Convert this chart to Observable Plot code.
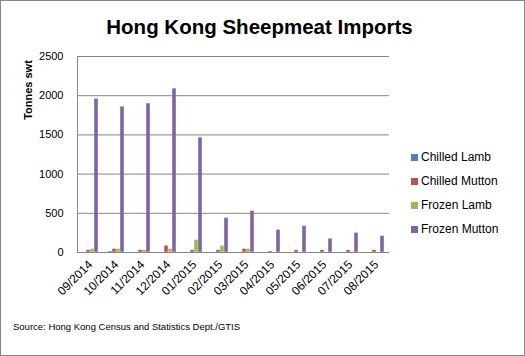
<!DOCTYPE html>
<html>
<head>
<meta charset="utf-8">
<script src="https://cdn.jsdelivr.net/npm/d3@7"></script>
<script src="https://cdn.jsdelivr.net/npm/@observablehq/plot@0.6"></script>
<style>
  html, body { margin: 0; padding: 0; background: #fff; }
  body { width: 525px; height: 356px; position: relative; overflow: hidden; font-family: "Liberation Sans", Arial, sans-serif; }
  #frame { position: absolute; left: 0; top: 0; width: 525px; height: 356px; box-sizing: border-box; border: 1px solid #868686; pointer-events: none; }
  #title { position: absolute; left: -3px; width: 525px; top: 15px; text-align: center; font-size: 20.5px; font-weight: bold; color: #000; }
  #ylabel { position: absolute; left: 28px; top: 90px; transform: translate(-50%, -50%) rotate(-90deg); font-size: 11px; font-weight: bold; white-space: nowrap; }
  #chart { position: absolute; left: 0; top: 0; }
  #legend { position: absolute; left: 411px; top: 150px; font-size: 12px; }
  .li { height: 24px; display: flex; align-items: flex-start; white-space: nowrap; }
  .sw { width: 7px; height: 7px; margin-right: 3px; margin-top: 4px; }
  #source { position: absolute; left: 13px; top: 321px; font-size: 9.5px; white-space: nowrap; }
</style>
</head>
<body>
<div id="chart"></div>
<div id="title">Hong Kong Sheepmeat Imports</div>
<div id="ylabel">Tonnes swt</div>
<div id="legend"></div>
<div id="source">Source: Hong Kong Census and Statistics Dept./GTIS</div>
<div id="frame"></div>
<script>
const months = ["09/2014","10/2014","11/2014","12/2014","01/2015","02/2015","03/2015","04/2015","05/2015","06/2015","07/2015","08/2015"];
const seriesNames = ["Chilled Lamb","Chilled Mutton","Frozen Lamb","Frozen Mutton"];
const seriesColors = ["#4F81BD","#C0504D","#9BBB59","#8064A2"];
const chilledLamb   = [0, 15, 0, 0, 0, 0, 0, 3, 0, 0, 0, 0];
const chilledMutton = [30, 45, 30, 85, 30, 30, 45, 15, 30, 30, 30, 30];
const frozenLamb    = [45, 45, 30, 45, 160, 85, 45, 0, 0, 0, 10, 0];
const frozenMutton  = [1960, 1860, 1900, 2090, 1465, 440, 530, 288, 338, 175, 250, 210];
const yTicks = [0, 500, 1000, 1500, 2000, 2500];

const seriesValues = [chilledLamb, chilledMutton, frozenLamb, frozenMutton];
const data = [];
months.forEach((m, i) => {
  seriesNames.forEach((s, j) => data.push({month: m, series: s, value: seriesValues[j][i]}));
});

const plot = Plot.plot({
  width: 525,
  height: 320,
  marginTop: 56,
  marginBottom: 68,
  marginLeft: 77,
  marginRight: 136,
  style: {fontFamily: "'Liberation Sans', Arial, sans-serif", fontSize: "11px", color: "#000", background: "transparent"},
  fx: {domain: months, padding: 0, label: null, axis: null},
  x: {domain: seriesNames, axis: null, paddingInner: 0, paddingOuter: 1},
  y: {domain: [0, 2500], axis: null},
  color: {domain: seriesNames, range: seriesColors},
  marks: [
    Plot.ruleY(yTicks, {stroke: "#868686", strokeWidth: 1}),
    Plot.axisY({ticks: yTicks, tickFormat: d3.format("d"), tickSize: 0, tickPadding: 14, label: null, fontSize: 11}),
    Plot.axisFx({anchor: "bottom", tickRotate: -45, tickSize: 0, tickPadding: 10, label: null, fontSize: 12}),
    Plot.frame({anchor: "left", facetAnchor: "left", stroke: "#868686"}),
    Plot.barY(data, {fx: "month", x: "series", y: "value", fill: "series", inset: 0.2})
  ]
});
document.getElementById("chart").appendChild(plot);

const legend = document.getElementById("legend");
seriesNames.forEach((s, j) => {
  const row = document.createElement("div");
  row.className = "li";
  const sw = document.createElement("div");
  sw.className = "sw";
  sw.style.background = seriesColors[j];
  const t = document.createElement("span");
  t.textContent = s;
  row.appendChild(sw); row.appendChild(t);
  legend.appendChild(row);
});
</script>
</body>
</html>
